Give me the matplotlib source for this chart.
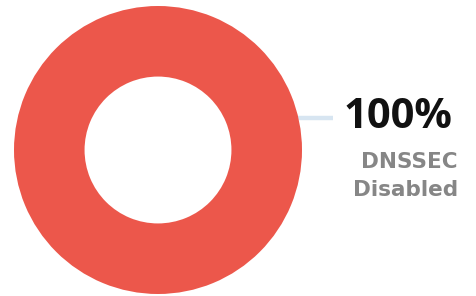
import matplotlib
matplotlib.use("Agg")
import matplotlib.pyplot as plt

labels = ["DNSSEC Disabled"]
values = [100]
colors = ["#ec574b"]
pct_text = "100%"
label_lines = ["DNSSEC", "Disabled"]

W, H = 477, 296
fig = plt.figure(figsize=(W / 100, H / 100), dpi=100)
cx, cy, r = 158, 150, 144
ax = fig.add_axes([(cx - r) / W, (H - cy - r) / H, 2 * r / W, 2 * r / H])
ax.pie(values, colors=colors, radius=1, startangle=90, counterclock=False,
       wedgeprops=dict(width=0.49, edgecolor="none"))
ax.set_xlim(-1, 1)
ax.set_ylim(-1, 1)
ax.set_aspect("equal")
ax.axis("off")

# leader line
ax.plot([0.97, 1.215], [0.222, 0.222], color="#d7e5f1", lw=3.2,
        solid_capstyle="butt", clip_on=False, zorder=0)

fig.text(452 / W, 1 - 128 / H, pct_text, ha="right", va="baseline",
         fontsize=30, fontweight="bold", family="Open Sans", color="#111111")
fig.text(458 / W, 1 - 167.5 / H, label_lines[0], ha="right", va="baseline",
         fontsize=15.5, fontweight="bold", family="DejaVu Sans", color="#868686")
fig.text(458 / W, 1 - 196.5 / H, label_lines[1], ha="right", va="baseline",
         fontsize=15.5, fontweight="bold", family="DejaVu Sans", color="#868686")

fig.savefig("out.png", dpi=100)
